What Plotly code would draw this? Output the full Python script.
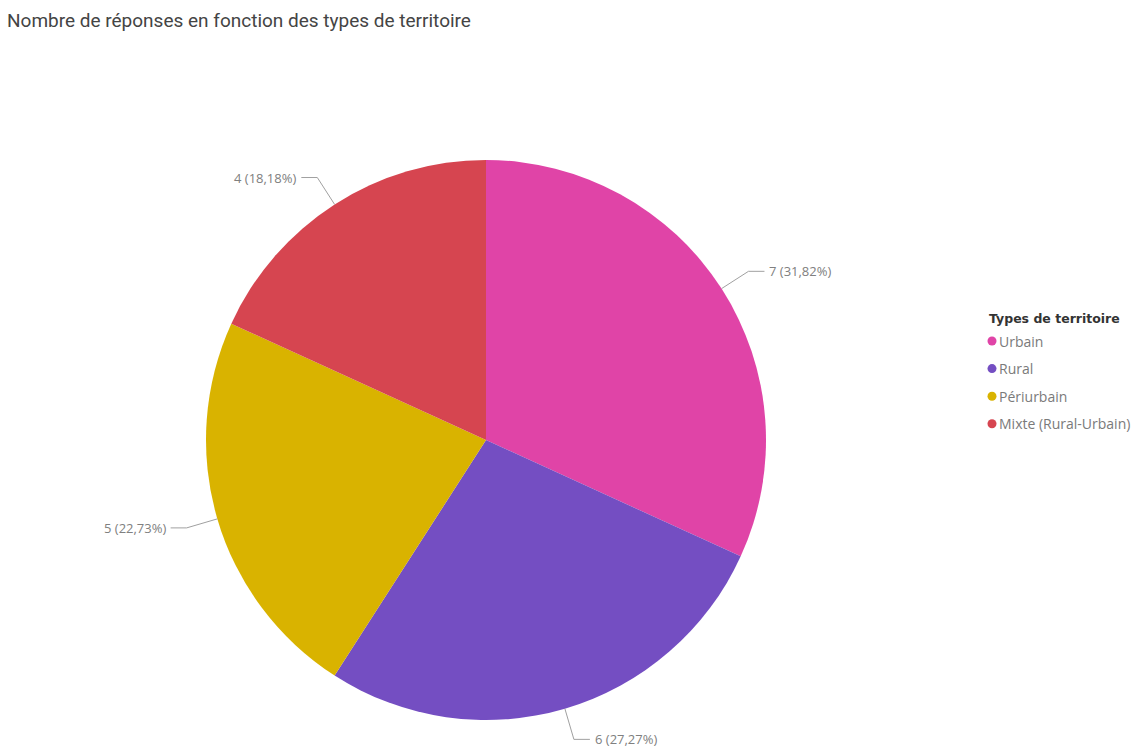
import math
import plotly.graph_objects as go

# Survey responses by territory type
categories = ["Urbain", "Rural", "Périurbain", "Mixte (Rural-Urbain)"]
responses = [7, 6, 5, 4]
colors = ["#E044A7", "#744EC2", "#D9B300", "#D64550"]
legend_title = "Types de territoire"

W, H = 1132, 753
# pie placement in pixels (centre and radius)
CX, CY, R = 486, 440, 280
dom_x = [(CX - R) / W, (CX + R) / W]
dom_y = [1 - (CY + R) / H, 1 - (CY - R) / H]

fig = go.Figure()
fig.add_trace(go.Pie(
    labels=categories,
    values=responses,
    sort=False,
    direction="clockwise",
    rotation=0,
    marker=dict(colors=colors, line=dict(width=0)),
    textinfo="none",
    hoverinfo="label+value+percent",
    showlegend=False,
    domain=dict(x=dom_x, y=dom_y),
))


def px(x, y):
    return x / W, 1 - y / H


# outside labels with leader lines, placed from each slice's mid angle
total = sum(responses)
shapes, annotations = [], []
cum = 0
EXT, HOR = 32, 16
for v in responses:
    mid = (cum + v / 2) / total * 2 * math.pi
    cum += v
    s, c = math.sin(mid), math.cos(mid)
    x0, y0 = CX + R * s, CY - R * c
    x1, y1 = CX + (R + EXT) * s, CY - (R + EXT) * c
    side = 1 if s >= 0 else -1
    x2, y2 = x1 + side * HOR, y1
    line = dict(color="#a0a0a0", width=1)
    for (a, b), (p, q) in [((x0, y0), (x1, y1)), ((x1, y1), (x2, y2))]:
        ax, ay = px(a, b)
        bx, by = px(p, q)
        shapes.append(dict(type="line", xref="paper", yref="paper",
                           x0=ax, y0=ay, x1=bx, y1=by, line=line))
    pct = f"{v / total * 100:.2f}".replace(".", ",")
    tx, ty = px(x2 + side * 3, y2)
    annotations.append(dict(
        text=f"{v} ({pct}%)", x=tx, y=ty, xref="paper", yref="paper",
        xanchor="left" if side > 0 else "right", yanchor="middle",
        showarrow=False,
        font=dict(family="Open Sans", size=13, color="#808080"),
    ))

# legend block: bold title, then a round swatch and a name per category
LX, LY, STEP = 987, 318, 27.6
tx, ty = px(LX, LY)
annotations.append(dict(
    text=f"<b>{legend_title}</b>", x=tx, y=ty, xref="paper", yref="paper",
    xanchor="left", yanchor="middle", showarrow=False,
    font=dict(family="DejaVu Sans", size=12.5, color="#333333"),
))
for i, (name, col) in enumerate(zip(categories, colors)):
    yy = LY + 23 + i * STEP
    cx, cy = px(LX + 5, yy)
    shapes.append(dict(type="circle", xref="paper", yref="paper",
                       xsizemode="pixel", ysizemode="pixel",
                       xanchor=cx, yanchor=cy, x0=-4.5, x1=4.5, y0=-4.5, y1=4.5,
                       fillcolor=col, line=dict(width=0)))
    nx, ny = px(LX + 10, yy)
    annotations.append(dict(
        text=name, x=nx, y=ny, xref="paper", yref="paper",
        xanchor="left", yanchor="middle", showarrow=False,
        font=dict(family="Open Sans", size=14, color="#7a7a7a"),
    ))

fig.update_layout(
    width=W, height=H,
    margin=dict(l=0, r=0, t=0, b=0),
    paper_bgcolor="white", plot_bgcolor="white",
    showlegend=False,
    title=dict(
        text="Nombre de réponses en fonction des types de territoire",
        x=7 / W, y=1 - 20 / H, xanchor="left", yanchor="middle",
        font=dict(family="Roboto", size=19, color="#444444"),
    ),
    shapes=shapes,
    annotations=annotations,
)

fig.write_html("out.html")
